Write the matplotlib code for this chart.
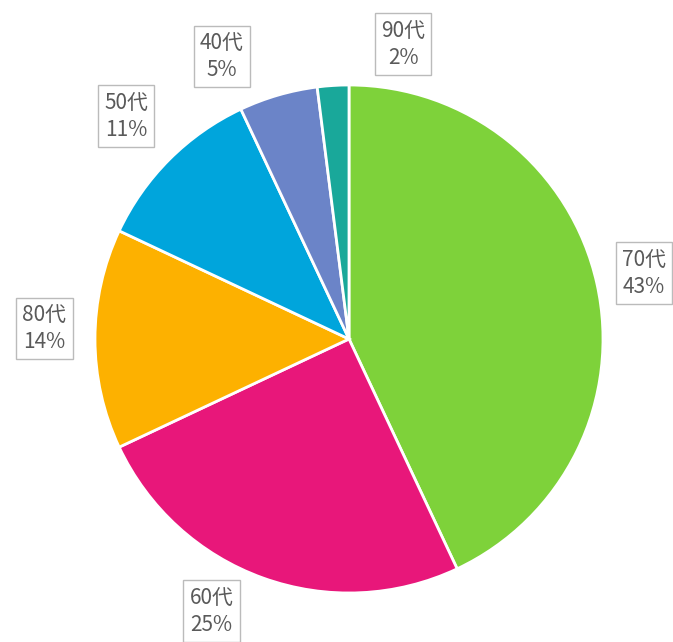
import numpy as np
import matplotlib.pyplot as plt

plt.rcParams['font.family'] = ['Noto Sans CJK SC', 'DejaVu Sans']

# Data
labels = ['70代', '60代', '80代', '50代', '40代', '90代']
shares = [43, 25, 14, 11, 5, 2]
colors = ['#7ed23a', '#e8177a', '#fdb100', '#00a5dc', '#6b84c8', '#19a89a']

# label placement tweaks (extra angle in degrees, distance in radii)
label_shift = [0, -7, -2, 0, 8, -14]
label_dist = [1.19, 1.20, 1.20, 1.24, 1.22, 1.18]

fig = plt.figure(figsize=(6.73, 6.42), dpi=100)
ax = fig.add_axes([0, 0, 1, 1])

cx, cy, r = 349, 642 - 339, 254
wedges, _ = ax.pie(shares, colors=colors, startangle=90, counterclock=False,
                   center=(cx, cy), radius=r,
                   wedgeprops=dict(edgecolor='white', linewidth=2))

for w, lab, s, da, dist in zip(wedges, labels, shares, label_shift, label_dist):
    mid = np.deg2rad((w.theta1 + w.theta2) / 2 + da)
    x = cx + dist * r * np.cos(mid)
    y = cy + dist * r * np.sin(mid)
    ax.text(x, y, f'{lab}\n{s}%', ha='center', va='center', fontsize=15,
            color='#5a5a5a', linespacing=1.3,
            bbox=dict(boxstyle='square,pad=0.3', fc='white', ec='#bbbbbb', lw=1))

ax.set_xlim(0, 673)
ax.set_ylim(0, 642)
ax.set_aspect('equal')
ax.axis('off')

fig.savefig('out.png', dpi=100)
